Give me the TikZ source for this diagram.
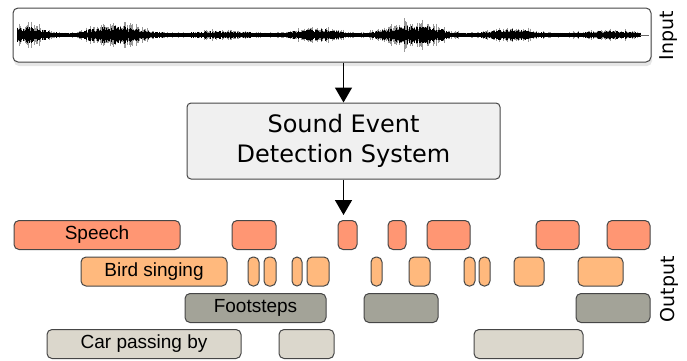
\documentclass[tikz,border=0pt]{standalone}
\usepackage{fontspec}
\newfontfamily\sysfont{DejaVu Sans}
\newfontfamily\evfont{Liberation Sans}
\usetikzlibrary{arrows.meta}
\usetikzlibrary{shadows}
\usepackage{xcolor}
\definecolor{speechc}{RGB}{255,150,115}
\definecolor{birdc}{RGB}{255,185,125}
\definecolor{stepsc}{RGB}{163,163,152}
\definecolor{carc}{RGB}{219,215,204}
\definecolor{edgec}{RGB}{70,70,70}

\begin{document}
\begin{tikzpicture}[x=1pt, y=-1pt]
        % ================= 样式定义 =================
        \tikzset{
            % 事件块:圆角彩色矩形
            evbox/.style={draw=edgec, line width=1pt, rounded corners=5pt, minimum height=29pt, inner sep=0pt, font=\evfont\fontsize{19}{22}\selectfont},
            speech/.style={evbox, fill=speechc},
            bird/.style={evbox, fill=birdc},
            steps/.style={evbox, fill=stepsc},
            car/.style={evbox, fill=carc},
            % 系统框与输入框
            sysbox/.style={draw=edgec, fill=black!6, line width=1pt, rounded corners=4pt, minimum width=313pt, minimum height=76pt, align=center, font=\sysfont\fontsize{24}{30}\selectfont},
            inbox/.style={draw=edgec, fill=white, line width=1pt, rounded corners=5pt, minimum width=638pt, minimum height=54pt, drop shadow={shadow xshift=1pt, shadow yshift=-4pt, opacity=0.2}},
            sidelabel/.style={rotate=90, font=\sysfont\fontsize{19}{22}\selectfont},
            % 箭头样式
            flow/.style={line width=1.5pt, black, -{Triangle[length=15pt, width=17pt]}},
            wavefringe/.style={black!40, line width=0.8pt},
            wavecore/.style={black, line width=0.8pt}
        }

        \useasboundingbox (0,0) rectangle (687,360);

        % ================= 输入波形 =================
        \node[inbox] (inp) at (332,35) {};
        \pgfmathsetseed{7}
        \foreach \x in {17,18,...,640} {
            \pgfmathsetmacro{\burst}{0.5+0.5*sin(3.7*\x+25*sin(1.3*\x))}
            \pgfmathsetmacro{\env}{0.1+0.9*\burst*(0.6+0.4*sin(1.1*\x))}
            \pgfmathsetmacro{\core}{1.2+9*\env*(0.3+0.7*rnd)}
            \pgfmathsetmacro{\amp}{\core+11*\env*rnd*rnd}
            \draw[wavefringe] (\x,35-\amp) -- (\x,35+\amp);
            \draw[wavecore] (\x,35-\core) -- (\x,35+\core);
        }
        \draw[black!60, line width=0.6pt] (640,35) -- (649,35);
        \node[sidelabel] (inlbl) at (669,36) {Input};

        % ================= 检测系统 =================
        \node[sysbox] (sed) at (343.5,141) {Sound Event\\Detection System};
        \coordinate (out) at (343.5,215);

        \draw[flow] (inp.south -| sed.north) -- (sed.north);
        \draw[flow] (sed.south) -- (out);

        % ================= 输出事件 =================
        % 1. Speech
        \node[speech, minimum width=166pt] (speech) at (97,235) {Speech};
        \foreach \a/\b [count=\i] in {232/276, 338/357, 388/406, 427/470, 536/579, 607/650}
            \node[speech, minimum width={(\b-\a)*1pt}] (sp\i) at ({(\a+\b)/2},235) {};

        % 2. Bird singing
        \node[bird, minimum width=146pt] (bird) at (154,271.5) {Bird singing};
        \foreach \a/\b [count=\i] in {248/259, 264/276, 292/302, 307/329, 371/382, 409/430, 464/475, 479/490, 514/544, 578/623}
            \node[bird, minimum width={(\b-\a)*1pt}] (bd\i) at ({(\a+\b)/2},271.5) {};

        % 3. Footsteps
        \node[steps, minimum width=141pt] (steps) at (255.5,308) {Footsteps};
        \foreach \a/\b [count=\i] in {364/438, 576/650}
            \node[steps, minimum width={(\b-\a)*1pt}] (fs\i) at ({(\a+\b)/2},308) {};

        % 4. Car passing by
        \node[car, minimum width=194pt] (car) at (144,344) {Car passing by};
        \foreach \a/\b [count=\i] in {279/334, 474/583}
            \node[car, minimum width={(\b-\a)*1pt}] (cr\i) at ({(\a+\b)/2},344) {};

        \node[sidelabel] (outlbl) at (669,289) {Output};

    \end{tikzpicture}
\end{document}
